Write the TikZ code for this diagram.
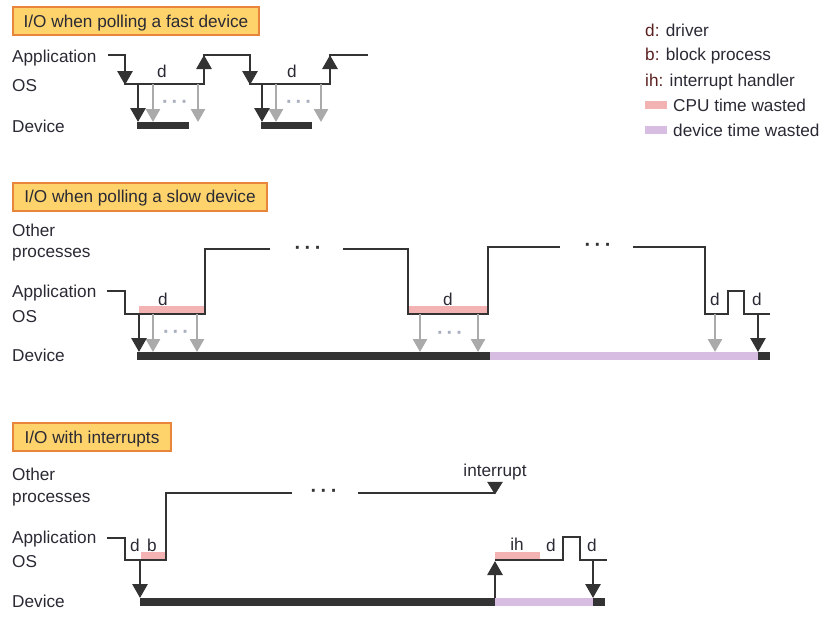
\documentclass[tikz,border=0pt]{standalone}
\usepackage{fontspec}
\setmainfont{Liberation Sans}
\usetikzlibrary{arrows.meta}
\definecolor{dk}{HTML}{333333}
\definecolor{gr}{HTML}{AAAAAA}
\definecolor{pinkc}{HTML}{F3B3B3}
\definecolor{purc}{HTML}{D8BDE2}
\definecolor{yelc}{HTML}{FFD36B}
\definecolor{orc}{HTML}{E8843C}
\definecolor{txt}{HTML}{2A2A35}
\definecolor{legc}{HTML}{5A2020}
\definecolor{dotg}{HTML}{A8AEBE}
\begin{document}
\begin{tikzpicture}[x=1pt,y=-1pt,
  every node/.style={font=\fontsize{17.2}{20}\selectfont, text=txt, inner sep=0pt},
  lab/.style={anchor=base west},
  clab/.style={anchor=base},
  sig/.style={line width=2.8pt, draw=dk, line join=miter},
  arr/.style={line width=2.8pt, draw=dk, -{Triangle[width=15pt,length=14pt]}},
  garr/.style={line width=2.6pt, draw=gr, -{Triangle[width=14pt,length=13pt]}},
  dev/.style={line width=7.5pt, draw=dk},
  devw/.style={line width=7.5pt, draw=purc},
  cpu/.style={line width=8pt, draw=pinkc},
  titlebox/.style={draw=orc, fill=yelc, line width=2pt, anchor=west, minimum height=28pt, text depth=0pt},
  dots/.style={anchor=base, font=\fontsize{20}{22}\selectfont\bfseries},
]
\useasboundingbox (0,0) rectangle (827,632);

% ---------------- Section 1 ----------------
\node[titlebox, minimum width=246pt] (t1) at (12,21) {I/O when polling a fast device};
\node[lab] (a1) at (12,62) {Application};
\node[lab] (o1) at (12,91) {OS};
\node[lab] (d1) at (12,132) {Device};

\draw[sig] (108,55) -- (125,55) -- (125,84) -- (204,84) -- (204,55) -- (250,55) -- (250,84) -- (330,84) -- (330,55) -- (368,55);
\draw[arr] (125,55) -- (125,85);
\draw[arr] (204,84) -- (204,55);
\draw[arr] (250,55) -- (250,85);
\draw[arr] (330,84) -- (330,55);

\draw[garr] (153,84) -- (153,122);
\draw[garr] (198,84) -- (198,122);
\draw[garr] (276,84) -- (276,122);
\draw[garr] (321,84) -- (321,122);
\draw[arr] (138,84) -- (138,122);
\draw[arr] (262,84) -- (262,122);
\draw[dev] (137,125.5) -- (189,125.5);
\draw[dev] (261,125.5) -- (312,125.5);
\node[clab] (d1a) at (162,77) {d};
\node[clab] (d1b) at (292,77) {d};
\node[dots, text=dotg] (p1a) at (175,108) {·\hspace{3pt}·\hspace{3pt}·};
\node[dots, text=dotg] (p1b) at (299,108) {·\hspace{3pt}·\hspace{3pt}·};

% ---------------- Legend ----------------
\node[lab] (l1) at (645,36) {\textcolor{legc}{d:} driver};
\node[lab] (l2) at (645,60) {\textcolor{legc}{b:} block process};
\node[lab] (l3) at (645,86) {\textcolor{legc}{ih:} interrupt handler};
\fill[pinkc] (645,101) rectangle (667,109);
\node[lab] (l4) at (673,111) {CPU time wasted};
\fill[purc] (645,126) rectangle (667,134);
\node[lab] (l5) at (673,136) {device time wasted};

% ---------------- Section 2 ----------------
\node[titlebox, minimum width=254pt] (t2) at (12,196.5) {I/O when polling a slow device};
\node[lab] (ot2) at (12,236) {Other};
\node[lab] (pr2) at (12,257) {processes};
\node[lab] (a2) at (12,297) {Application};
\node[lab] (o2) at (12,322) {OS};
\node[lab] (d2) at (12,361) {Device};

\draw[cpu] (139,310) -- (205,310);
\draw[cpu] (408,310) -- (488,310);
\draw[sig] (107,291) -- (125,291) -- (125,314) -- (205,314) -- (205,249) -- (270,249);
\draw[sig] (343,249) -- (408,249) -- (408,314) -- (488,314) -- (488,247) -- (560,247);
\draw[sig] (633,247) -- (705,247) -- (705,314) -- (728,314) -- (728,291) -- (744,291) -- (744,314) -- (770,314);

\draw[garr] (153,314) -- (153,352);
\draw[garr] (197,314) -- (197,352);
\draw[garr] (420,314) -- (420,352);
\draw[garr] (478,314) -- (478,352);
\draw[garr] (715,314) -- (715,352);
\draw[arr] (139,314) -- (139,352);
\draw[arr] (758,314) -- (758,352);
\draw[dev] (137,356) -- (490,356);
\draw[devw] (490,356) -- (758,356);
\draw[dev] (758,356) -- (770,356);

\node[clab] (d2a) at (163,305) {d};
\node[clab] (d2b) at (448,305) {d};
\node[clab] (d2c) at (715,305) {d};
\node[clab] (d2d) at (757,305) {d};
\node[dots, text=dotg] (p2a) at (176,338) {·\hspace{3pt}·\hspace{3pt}·};
\node[dots, text=dotg] (p2b) at (450,339) {·\hspace{3pt}·\hspace{3pt}·};
\node[dots, text=dk] (p2c) at (308,254) {·\hspace{3.5pt}·\hspace{3.5pt}·};
\node[dots, text=dk] (p2d) at (598,251) {·\hspace{3.5pt}·\hspace{3.5pt}·};

% ---------------- Section 3 ----------------
\node[titlebox, minimum width=158pt] (t3) at (12,437) {I/O with interrupts};
\node[lab] (ot3) at (12,480) {Other};
\node[lab] (pr3) at (12,502) {processes};
\node[lab] (a3) at (12,543) {Application};
\node[lab] (o3) at (12,567) {OS};
\node[lab] (d3) at (12,607) {Device};

\draw[cpu] (141,556) -- (166,556);
\draw[cpu] (495,556) -- (540,556);
\draw[sig] (107,538) -- (125,538) -- (125,560) -- (166,560) -- (166,493) -- (292,493);
\draw[sig] (358,493) -- (495,493);
\draw[sig] (495,560) -- (563,560) -- (563,537) -- (580,537) -- (580,560) -- (607,560);

\draw[arr] (140,560) -- (140,598);
\draw[arr] (495,602) -- (495,561);
\draw[arr] (593,560) -- (593,598);
\draw[dk, fill=dk] (487.5,482) -- (502.5,482) -- (495,494) -- cycle;
\draw[dev] (140,602) -- (495,602);
\draw[devw] (495,602) -- (593,602);
\draw[dev] (593,602) -- (605,602);

\node[clab] (d3a) at (135,551) {d};
\node[clab] (b3) at (152,551) {b};
\node[clab] (ih3) at (517,550) {ih};
\node[clab] (d3b) at (551,551) {d};
\node[clab] (d3c) at (592,551) {d};
\node[clab] (int3) at (495,476) {interrupt};
\node[dots, text=dk] (p3) at (324,497) {·\hspace{3.5pt}·\hspace{3.5pt}·};
\end{tikzpicture}
\end{document}
